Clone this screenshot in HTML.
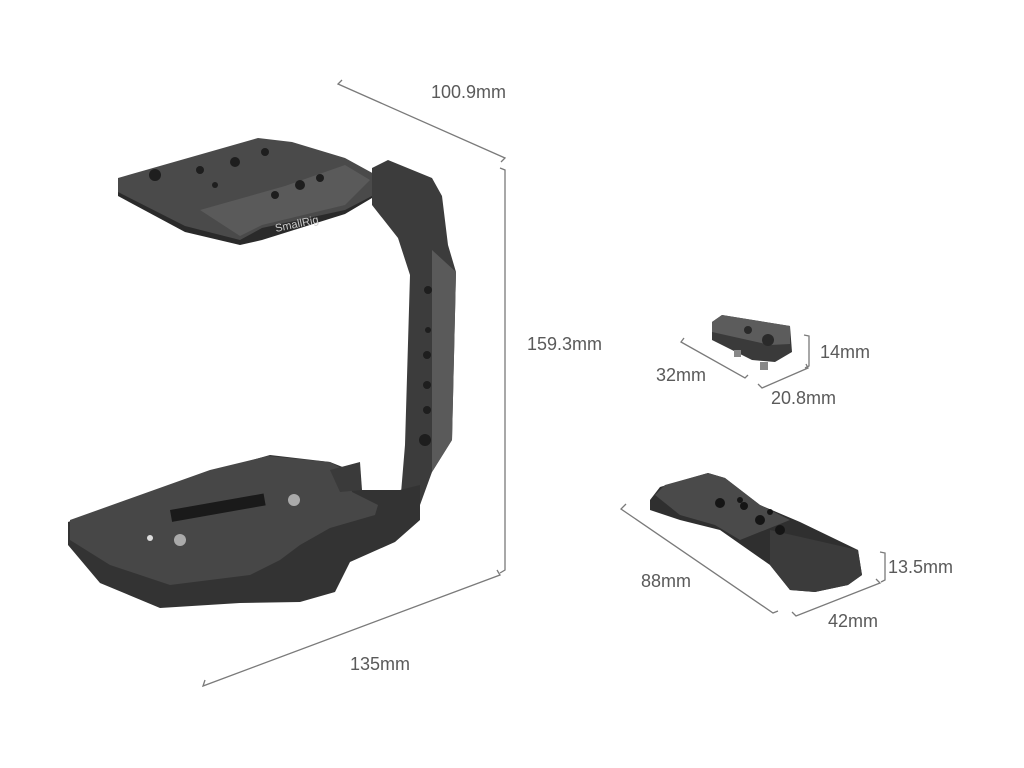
<!DOCTYPE html>
<html><head><meta charset="utf-8"><style>
html,body{margin:0;padding:0;background:#fff;width:1024px;height:768px;overflow:hidden}
svg text{font-family:"Liberation Sans",sans-serif;font-size:18px;fill:#5a5a5a}
</style></head><body>
<svg width="1024" height="768" viewBox="0 0 1024 768" xmlns="http://www.w3.org/2000/svg">
<g stroke="#7a7a7a" stroke-width="1.3" fill="none">
<polyline points="342,80 338,84 505,158 501,162"/>
<polyline points="500,168 505,170 505,570 500,573"/>
<polyline points="205,680 203,686 500,575 497,570"/>
<polyline points="684,338 681,342 745,378 748,375"/>
<polyline points="758,384 762,388 808,368 806,364"/>
<polyline points="804,335 809,336 809,366 805,368"/>
<polyline points="626,504 621,509 773,613 778,611"/>
<polyline points="792,612 796,616 880,583 876,579"/>
<polyline points="880,552 885,553 885,580 881,582"/>
</g>
<g>
<text x="431" y="98">100.9mm</text>
<text x="527" y="350">159.3mm</text>
<text x="350" y="670">135mm</text>
<text x="656" y="381">32mm</text>
<text x="820" y="358">14mm</text>
<text x="771" y="404">20.8mm</text>
<text x="641" y="587">88mm</text>
<text x="888" y="573">13.5mm</text>
<text x="828" y="627">42mm</text>
</g>
<polygon points="118,180 118,196 185,232 240,245 262,240 345,214 372,198 372,180" fill="#2a2a2a"/>
<polygon points="118,178 258,138 292,142 345,158 376,175 372,196 345,210 262,228 240,240 185,226 118,192" fill="#4a4a4a"/>
<polygon points="200,210 285,186 345,165 370,180 345,205 262,225 240,236" fill="#5a5a5a"/>
<text x="276" y="232" style="font-size:11px;fill:#ccc" transform="rotate(-12 276 232)">SmallRig</text>
<g fill="#1e1e1e">
<circle cx="155" cy="175" r="6"/><circle cx="200" cy="170" r="4"/><circle cx="235" cy="162" r="5"/><circle cx="265" cy="152" r="4"/><circle cx="300" cy="185" r="5"/><circle cx="275" cy="195" r="4"/><circle cx="320" cy="178" r="4"/><circle cx="215" cy="185" r="3"/>
</g>
<polygon points="372,168 388,160 432,178 442,196 448,245 456,272 452,440 432,472 420,505 400,505 405,445 410,275 398,238 372,205" fill="#3c3c3c"/>
<polygon points="432,250 456,272 452,440 432,472" fill="#5a5a5a"/>
<g fill="#1e1e1e"><circle cx="428" cy="290" r="4"/><circle cx="428" cy="330" r="3"/><circle cx="427" cy="355" r="4"/><circle cx="427" cy="385" r="4"/><circle cx="427" cy="410" r="4"/><circle cx="425" cy="440" r="6"/></g>
<polygon points="68,522 68,545 100,583 160,608 240,603 300,602 335,592 350,562 395,542 420,520 420,485 400,490 355,490 350,470 330,462 270,455 210,472" fill="#333"/>
<polygon points="70,520 210,470 268,456 330,462 348,472 352,492 378,505 375,515 330,528 300,545 280,560 250,575 170,585 110,565 70,540" fill="#474747"/>
<polygon points="330,470 360,462 362,490 340,492" fill="#3a3a3a"/>
<rect x="170" y="510" width="95" height="12" fill="#1a1a1a" transform="rotate(-10 170 510)"/>
<circle cx="180" cy="540" r="6" fill="#aaa"/><circle cx="294" cy="500" r="6" fill="#aaa"/><circle cx="150" cy="538" r="3" fill="#ddd"/>
<polygon points="712,322 722,315 790,326 792,352 775,362 752,360 712,340" fill="#3a3a3a"/>
<polygon points="712,322 722,315 790,326 790,344 770,345 712,332" fill="#5c5c5c"/>
<circle cx="768" cy="340" r="6" fill="#2a2a2a"/><circle cx="748" cy="330" r="4" fill="#2a2a2a"/>
<rect x="760" y="362" width="8" height="8" fill="#888"/><rect x="734" y="350" width="7" height="7" fill="#888"/>
<polygon points="650,500 660,487 708,473 725,478 760,505 800,522 858,550 862,575 848,585 815,592 790,590 770,565 720,530 680,520 650,510" fill="#2f2f2f"/>
<polygon points="655,495 665,485 708,473 725,478 760,505 790,520 740,540 715,525 680,515" fill="#4a4a4a"/>
<polygon points="770,530 858,550 862,575 848,585 815,592 790,590 770,565" fill="#3b3b3b"/>
<g fill="#151515"><circle cx="720" cy="503" r="5"/><circle cx="744" cy="506" r="4"/><circle cx="760" cy="520" r="5"/><circle cx="780" cy="530" r="5"/><circle cx="740" cy="500" r="3"/><circle cx="770" cy="512" r="3"/></g>
</svg>
</body></html>
